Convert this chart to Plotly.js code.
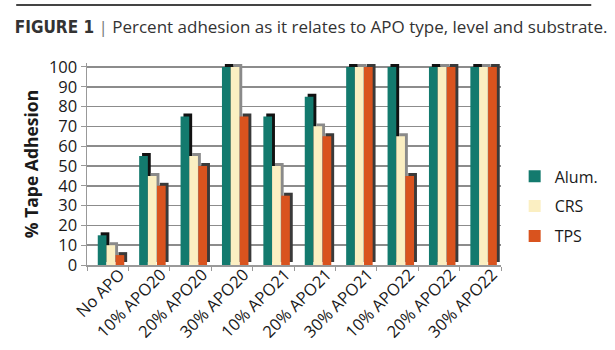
<!DOCTYPE html>
<html><head><meta charset="utf-8">
<script src="https://cdn.plot.ly/plotly-3.0.1.min.js"></script>
<style>html,body{margin:0;padding:0;background:#fff;}#chart{width:615px;height:350px;}</style>
</head><body><div id="chart"></div>
<script>
const categories = ["No APO","10% APO20","20% APO20","30% APO20","10% APO21","20% APO21","30% APO21","10% APO22","20% APO22","30% APO22"];
const alum = [15,55,75,100,75,85,100,100,100,100];
const crs  = [10,45,55,100,50,70,100,65,100,100];
const tps  = [5,40,50,75,35,65,100,45,100,100];
const seriesNames = ["Alum.","CRS","TPS"];
const yTicks = [0,10,20,30,40,50,60,70,80,90,100];

const colors = ["#137a6e","#fbefc2","#d9531e"];
const shadowColors = ["#111111","#8a8a8a","#3a3a3a"];
const offsets = [-0.24,-0.03,0.19];
const bw = 0.21;
const data = [];
[alum,crs,tps].forEach((vals,i)=>{
  data.push({type:'bar',x:categories,y:vals,base:1.5,offset:offsets[i]+0.07,width:bw,
    marker:{color:shadowColors[i],line:{width:0}},showlegend:false,hoverinfo:'skip',cliponaxis:false});
});
[alum,crs,tps].forEach((vals,i)=>{
  data.push({type:'bar',x:categories,y:vals,name:seriesNames[i],legendgroup:'g'+i,offset:offsets[i],width:bw,
    marker:{color:colors[i],line:{width:0}},cliponaxis:false});
});

const layout = {
  width:615,height:350,
  margin:{l:87,r:106,t:63,b:85},
  paper_bgcolor:'#fff',plot_bgcolor:'#fff',
  barmode:'overlay',
  font:{family:'Open Sans, sans-serif',color:'#1a1a1a'},
  title:{text:'<span style="font-family:\'Liberation Sans Narrow\',\'DejaVu Sans Condensed\';font-weight:bold">FIGURE 1</span> <span style="color:#777">|</span> Percent adhesion as it relates to APO type, level and substrate.',
    x:0.024,xanchor:'left',xref:'container',y:0.922,yanchor:'middle',yref:'container',
    font:{family:'Open Sans, sans-serif',size:17,color:'#333'}},
  xaxis:{type:'category',tickangle:-45,tickson:'boundaries',ticks:'outside',ticklen:4,tickcolor:'#999',
    showline:true,linecolor:'#999',linewidth:1.5,showgrid:false,ticklabelshift:12,ticklabelstandoff:-8,
    tickfont:{size:16.5,color:'#1a1a1a'},range:[-0.5,9.5]},
  yaxis:{range:[0,102],tickvals:yTicks,ticktext:yTicks.map(String),ticks:'outside',ticklen:5,tickcolor:'#999',
    showline:true,linecolor:'#999',linewidth:1.5,showgrid:true,gridcolor:'#8c8c8c',gridwidth:1.5,
    zeroline:false,tickfont:{size:16.5,color:'#1a1a1a'},
    title:{text:'<b>% Tape Adhesion</b>',font:{size:17.5,color:'#1a1a1a'},standoff:6}},
  legend:{x:1.033,xanchor:'left',y:0.29,yanchor:'middle',font:{size:16,color:'#1a1a1a'},
    tracegroupgap:6,itemwidth:30,bgcolor:'rgba(0,0,0,0)'},
  shapes:[{type:'line',xref:'paper',yref:'paper',x0:-0.171,x1:1.218,y0:1.287,y1:1.287,
    line:{color:'#444',width:2}}]
};
Plotly.newPlot('chart',data,layout,{displayModeBar:false,staticPlot:true});
</script></body></html>
